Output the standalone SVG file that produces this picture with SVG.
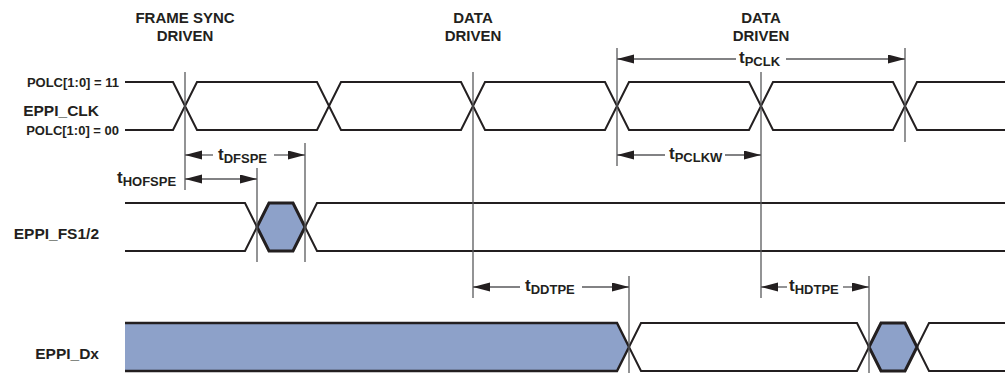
<svg xmlns="http://www.w3.org/2000/svg" width="1005" height="373" viewBox="0 0 1005 373">
<defs>
<marker id="ah" markerUnits="userSpaceOnUse" markerWidth="18" markerHeight="10" refX="17" refY="4.5" orient="auto">
<path d="M0,0 L17,4.5 L0,9 z" fill="#231f20"/>
</marker>
<style>
.sig{fill:none;stroke:#231f20;stroke-width:2;stroke-linejoin:miter}
.bus{fill:#8da1c9;stroke:#231f20;stroke-width:3;stroke-linejoin:miter}
.fillonly{fill:#8da1c9;stroke:none}
.ref{stroke:#58595b;stroke-width:1.3;fill:none}
.dim{stroke:#58595b;stroke-width:1.3;fill:none;marker-end:url(#ah)}
text{font-family:"Liberation Sans",Arial,sans-serif;font-weight:bold;fill:#231f20}
.hdr{font-size:15px;text-anchor:middle}
.lbl{font-size:15.5px;text-anchor:end}
.pol{font-size:13px;text-anchor:end}
.tm{font-size:17px}
.sub{font-size:13px}
</style>
</defs>
<rect width="1005" height="373" fill="#ffffff"/>

<g id="headers">
<text class="hdr" x="185" y="23">FRAME SYNC</text>
<text class="hdr" x="185" y="41">DRIVEN</text>
<text class="hdr" x="473" y="23">DATA</text>
<text class="hdr" x="473" y="41">DRIVEN</text>
<text class="hdr" x="761" y="23">DATA</text>
<text class="hdr" x="761" y="41">DRIVEN</text>
</g>

<g id="eppi_clk">
<text class="pol" x="119" y="87">POLC[1:0] = 11</text>
<text class="lbl" x="99" y="116">EPPI_CLK</text>
<text class="pol" x="119" y="135">POLC[1:0] = 00</text>
<path class="sig" d="M125,82 L173,82 L185,106 L173,130 L125,130"/>
<path class="sig" d="M185,106 L197,82 L317,82 L329,106 L317,130 L197,130 Z"/>
<path class="sig" d="M329,106 L341,82 L461,82 L473,106 L461,130 L341,130 Z"/>
<path class="sig" d="M473,106 L485,82 L605,82 L617,106 L605,130 L485,130 Z"/>
<path class="sig" d="M617,106 L629,82 L749,82 L761,106 L749,130 L629,130 Z"/>
<path class="sig" d="M761,106 L773,82 L893,82 L905,106 L893,130 L773,130 Z"/>
<path class="sig" d="M1006,82 L917,82 L905,106 L917,130 L1006,130"/>
</g>

<g id="eppi_fs">
<text class="lbl" x="99" y="239">EPPI_FS1/2</text>
<path class="sig" d="M125,203 L245,203 L257,227 L245,251 L125,251"/>
<path class="bus" d="M257,227 L269,203 L293,203 L305,227 L293,251 L269,251 Z"/>
<path class="sig" d="M1006,203 L317,203 L305,227 L317,251 L1006,251"/>
</g>

<g id="eppi_dx">
<text class="lbl" x="99" y="359">EPPI_Dx</text>
<path class="fillonly" d="M125,323 L617,323 L629,347 L617,371 L125,371 Z"/>
<path class="sig" d="M125,323 L617,323 L629,347 L617,371 L125,371" style="stroke-width:2.4"/>
<path class="sig" d="M629,347 L641,323 L857,323 L869,347 L857,371 L641,371 Z"/>
<path class="bus" d="M869,347 L881,323 L905,323 L917,347 L905,371 L881,371 Z"/>
<path class="sig" d="M1006,323 L929,323 L917,347 L929,371 L1006,371"/>
</g>

<g id="reference_lines">
<line class="ref" x1="185" y1="72" x2="185" y2="190"/>
<line class="ref" x1="473" y1="72" x2="473" y2="298"/>
<line class="ref" x1="617" y1="48" x2="617" y2="166"/>
<line class="ref" x1="761" y1="72" x2="761" y2="298"/>
<line class="ref" x1="905" y1="48" x2="905" y2="142"/>
<line class="ref" x1="257" y1="168" x2="257" y2="262"/>
<line class="ref" x1="305" y1="143" x2="305" y2="262"/>
<line class="ref" x1="629" y1="276" x2="629" y2="373"/>
<line class="ref" x1="869" y1="276" x2="869" y2="373"/>
</g>

<g id="connectors">
<line class="dim" x1="736" y1="59" x2="617" y2="59"/>
<line class="dim" x1="786" y1="59" x2="905" y2="59"/>
<line class="dim" x1="665" y1="155" x2="617" y2="155"/>
<line class="dim" x1="725" y1="155" x2="761" y2="155"/>
<line class="dim" x1="213" y1="155" x2="185" y2="155"/>
<line class="dim" x1="274" y1="155" x2="305" y2="155"/>
<line class="dim" x1="221" y1="179" x2="185" y2="179"/>
<line class="dim" x1="221" y1="179" x2="257" y2="179"/>
<line class="dim" x1="520" y1="287" x2="473" y2="287"/>
<line class="dim" x1="582" y1="287" x2="629" y2="287"/>
<line class="dim" x1="787" y1="287" x2="761" y2="287"/>
<line class="dim" x1="843" y1="287" x2="869" y2="287"/>
</g>

<g id="timing_labels">
<text class="tm" x="739" y="63">t<tspan class="sub" dy="3">PCLK</tspan></text>
<text class="tm" x="669" y="159">t<tspan class="sub" dy="3">PCLKW</tspan></text>
<text class="tm" x="218" y="159.5">t<tspan class="sub" dy="3">DFSPE</tspan></text>
<text class="tm" x="117" y="183">t<tspan class="sub" dy="3">HOFSPE</tspan></text>
<text class="tm" x="525" y="291">t<tspan class="sub" dy="3">DDTPE</tspan></text>
<text class="tm" x="789" y="291">t<tspan class="sub" dy="3">HDTPE</tspan></text>
</g>
</svg>
